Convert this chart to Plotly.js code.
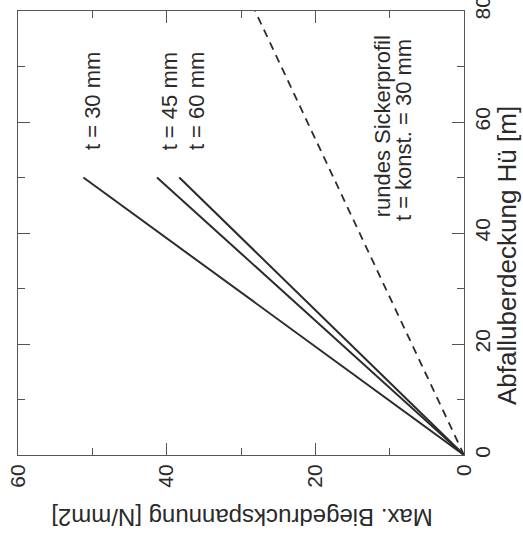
<!DOCTYPE html>
<html>
<head>
<meta charset="utf-8">
<script src="https://cdn.plot.ly/plotly-3.0.1.min.js"></script>
<style>
html,body{margin:0;padding:0;background:#fff;}
#chart{width:523px;height:539px;}
</style>
</head>
<body>
<div id="chart"></div>
<script>
// Data (original chart is rotated 90° CCW): Hü on vertical axis, stress on horizontal axis
const hue = [0, 50];
const stressT30 = [0, 51.2];
const stressT45 = [0, 41.3];
const stressT60 = [0, 38.3];
const hueRound = [0, 80];
const stressRound = [0, 28.1];
const seriesLabels = ["t = 30 mm", "t = 45 mm", "t = 60 mm"];
const roundLabel1 = "rundes Sickerprofil";
const roundLabel2 = "t = konst. = 30 mm";
const xTitle = "Max. Biegedruckspannung [N/mm2]";
const yTitle = "Abfalluberdeckung Hü [m]";

const lineStyle = {color: '#2b2b2b', width: 2};
const traces = [
  {x: stressT30, y: hue, mode: 'lines', line: lineStyle, name: seriesLabels[0]},
  {x: stressT45, y: hue, mode: 'lines', line: lineStyle, name: seriesLabels[1]},
  {x: stressT60, y: hue, mode: 'lines', line: lineStyle, name: seriesLabels[2]},
  {x: stressRound, y: hueRound, mode: 'lines', line: {color: '#2b2b2b', width: 1.8, dash: '8px,6px'}, name: roundLabel1}
];

const font = {family: 'Liberation Sans, Arial, sans-serif', color: '#2a2a2a'};
const axisCommon = {
  showgrid: false, zeroline: false, showline: true, linecolor: '#555', linewidth: 1,
  mirror: 'ticks', ticks: 'inside', ticklen: 12, tickwidth: 1, tickcolor: '#555',
  tickangle: -90, tickfont: Object.assign({size: 21}, font), dtick: 20,
  ticklabeloverflow: 'allow',
  minor: {ticks: 'inside', ticklen: 7, dtick: 10, tickcolor: '#555', tickwidth: 1}
};

const layout = {
  width: 523, height: 539,
  margin: {l: 18, r: 59, t: 11, b: 84},
  paper_bgcolor: '#fff', plot_bgcolor: '#fff',
  showlegend: false,
  font: font,
  xaxis: Object.assign({}, axisCommon, {range: [60, 0], tick0: 0}),
  yaxis: Object.assign({}, axisCommon, {range: [0, 80], side: 'right', tick0: 0}),
  annotations: [
    {x: 49.9, y: 54.6, xref: 'x', yref: 'y', text: seriesLabels[0], textangle: -90, showarrow: false, xanchor: 'center', yanchor: 'bottom', font: Object.assign({size: 22}, font)},
    {x: 39.5, y: 54.6, xref: 'x', yref: 'y', text: seriesLabels[1], textangle: -90, showarrow: false, xanchor: 'center', yanchor: 'bottom', font: Object.assign({size: 22}, font)},
    {x: 35.9, y: 54.6, xref: 'x', yref: 'y', text: seriesLabels[2], textangle: -90, showarrow: false, xanchor: 'center', yanchor: 'bottom', font: Object.assign({size: 22}, font)},
    {x: 11.0, y: 42.5, xref: 'x', yref: 'y', text: roundLabel1, textangle: -90, showarrow: false, xanchor: 'center', yanchor: 'bottom', font: Object.assign({size: 22}, font)},
    {x: 8.2, y: 41.8, xref: 'x', yref: 'y', text: roundLabel2, textangle: -90, showarrow: false, xanchor: 'center', yanchor: 'bottom', font: Object.assign({size: 22}, font)},
    {x: 0.502, y: -0.142, xref: 'paper', yref: 'paper', text: xTitle, textangle: 180, showarrow: false, xanchor: 'center', yanchor: 'middle', font: Object.assign({size: 24}, font)},
    {x: 1.096, y: 0.45, xref: 'paper', yref: 'paper', text: yTitle, textangle: -90, showarrow: false, xanchor: 'center', yanchor: 'middle', font: Object.assign({size: 26}, font)}
  ]
};

Plotly.newPlot('chart', traces, layout, {staticPlot: true, displayModeBar: false});
</script>
</body>
</html>
